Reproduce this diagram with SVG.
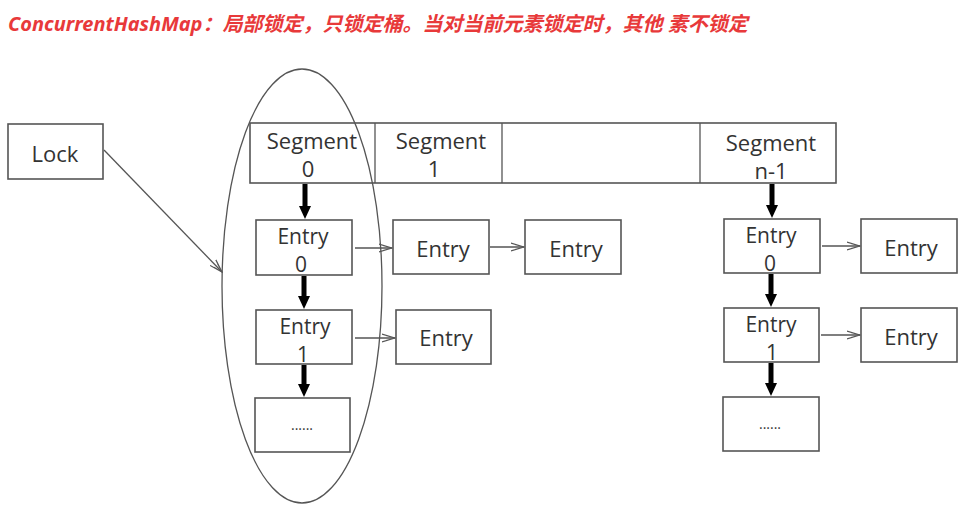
<svg xmlns="http://www.w3.org/2000/svg" width="974" height="522" viewBox="0 0 974 522">
<defs>
<style>
.box{fill:#fff;stroke:#555;stroke-width:1.6}
.t{font-family:"Open Sans","Noto Sans","Liberation Sans",sans-serif;font-size:22px;fill:#333;text-anchor:middle}
.s{font-size:21px}
.thin{stroke:#555;stroke-width:1.3;fill:none}
.thick{stroke:#000;stroke-width:5;fill:none}
.title{font-family:"Noto Sans","Noto Sans CJK SC",sans-serif;font-size:20px;font-weight:bold;font-style:italic;fill:#e8393a}
</style>
<marker id="open" markerWidth="14" markerHeight="10" refX="13" refY="5" orient="auto" markerUnits="userSpaceOnUse">
<path d="M0,1 L13,5 L0,9 M4,2.5 L13,5 L4,7.5" fill="none" stroke="#555" stroke-width="1.2"/>
</marker>
<marker id="fill" markerWidth="14" markerHeight="14" refX="2" refY="7" orient="auto" markerUnits="userSpaceOnUse">
<path d="M0,1 L13,7 L0,13 Z" fill="#000"/>
</marker>
</defs>
<rect width="974" height="522" fill="#fff"/>
<text class="title" x="8" y="31">ConcurrentHashMap：局部锁定，只锁定桶。当对当前元素锁定时，其他 素不锁定</text>

<g id="lock"><rect class="box" x="8" y="124" width="95" height="55"/><text class="t" x="55" y="162">Lock</text></g>

<g id="segments">
<rect class="box" x="250" y="123" width="586" height="60"/>
<line class="thin" x1="375" y1="123" x2="375" y2="183"/>
<line class="thin" x1="502" y1="123" x2="502" y2="183"/>
<line class="thin" x1="700" y1="123" x2="700" y2="183"/>
</g>
<g id="seg0"><text class="t" x="312" y="149">Segment</text><text class="t" x="308" y="177">0</text></g>
<g id="seg1"><text class="t" x="441" y="149">Segment</text><text class="t" x="434" y="177">1</text></g>
<g id="segn"><text class="t" x="771" y="151">Segment</text><text class="t" x="771" y="179">n-1</text></g>

<g id="e00"><rect class="box" x="256" y="220" width="96" height="55"/><text class="t s" x="303" y="244">Entry</text><text class="t s" x="301" y="272">0</text></g>
<g id="e01"><rect class="box" x="393" y="220" width="96" height="54"/><text class="t" x="443" y="257">Entry</text></g>
<g id="e02"><rect class="box" x="525" y="220" width="96" height="54"/><text class="t" x="576" y="257">Entry</text></g>
<g id="e10"><rect class="box" x="256" y="310" width="96" height="54"/><text class="t s" x="305" y="334">Entry</text><text class="t s" x="303" y="362">1</text></g>
<g id="e11"><rect class="box" x="396" y="310" width="95" height="54"/><text class="t" x="446" y="346">Entry</text></g>
<g id="e20"><rect class="box" x="255" y="398" width="95" height="54"/><text class="t" x="302" y="430" style="font-size:14px">......</text></g>

<g id="n00"><rect class="box" x="724" y="219" width="96" height="54"/><text class="t s" x="771" y="243">Entry</text><text class="t s" x="770" y="271">0</text></g>
<g id="n01"><rect class="box" x="861" y="219" width="96" height="54"/><text class="t" x="911" y="256">Entry</text></g>
<g id="n10"><rect class="box" x="724" y="308" width="95" height="54"/><text class="t s" x="771" y="332">Entry</text><text class="t s" x="772" y="360">1</text></g>
<g id="n11"><rect class="box" x="861" y="308" width="96" height="54"/><text class="t" x="911" y="345">Entry</text></g>
<g id="n20"><rect class="box" x="723" y="397" width="96" height="54"/><text class="t" x="770" y="429" style="font-size:14px">......</text></g>

<g id="connectors">
<ellipse class="thin" cx="302" cy="286" rx="80" ry="217"/>
<line class="thin" x1="104" y1="150" x2="222" y2="272" marker-end="url(#open)"/>
<line class="thick" x1="305" y1="184" x2="305" y2="208" marker-end="url(#fill)"/>
<line class="thick" x1="304" y1="276" x2="304" y2="298" marker-end="url(#fill)"/>
<line class="thick" x1="304" y1="365" x2="304" y2="386" marker-end="url(#fill)"/>
<line class="thin" x1="355" y1="248" x2="392" y2="248" marker-end="url(#open)"/>
<line class="thin" x1="490" y1="247" x2="524" y2="247" marker-end="url(#open)"/>
<line class="thin" x1="355" y1="338" x2="395" y2="338" marker-end="url(#open)"/>
<line class="thick" x1="772" y1="184" x2="772" y2="207" marker-end="url(#fill)"/>
<line class="thick" x1="771" y1="274" x2="771" y2="296" marker-end="url(#fill)"/>
<line class="thick" x1="771" y1="363" x2="771" y2="385" marker-end="url(#fill)"/>
<line class="thin" x1="822" y1="246" x2="860" y2="246" marker-end="url(#open)"/>
<line class="thin" x1="821" y1="335" x2="860" y2="335" marker-end="url(#open)"/>
</g>
</svg>
